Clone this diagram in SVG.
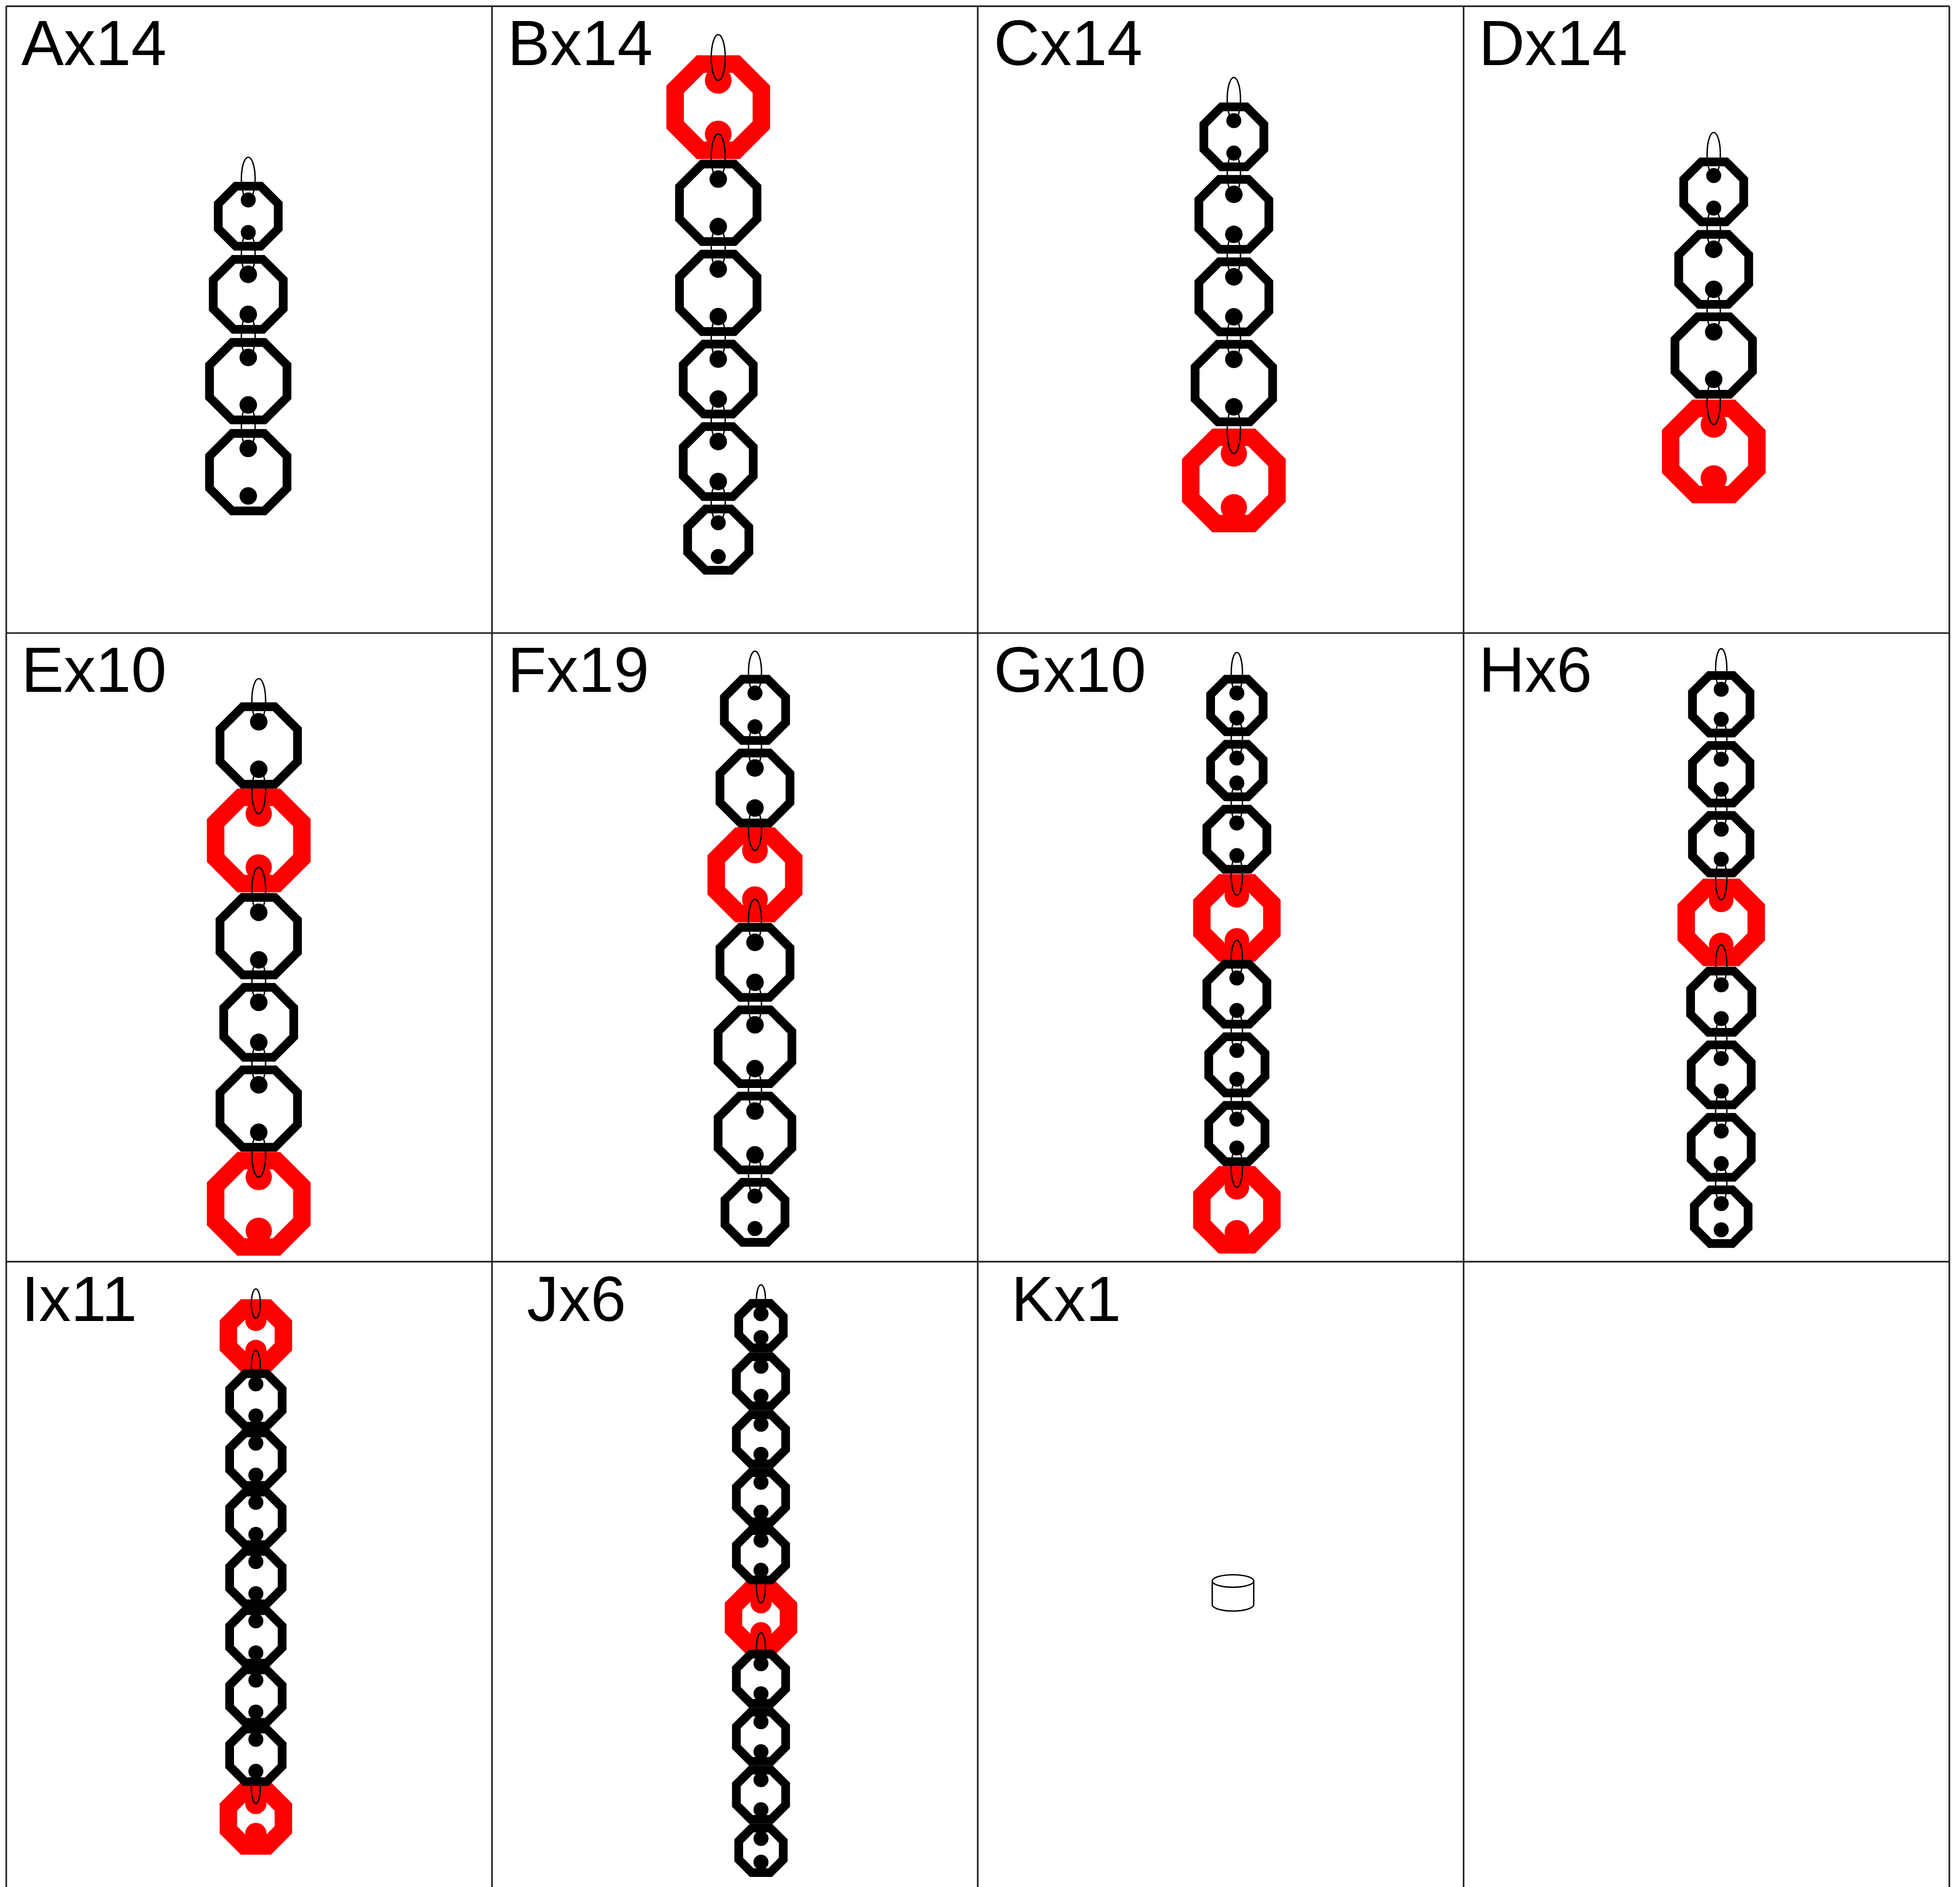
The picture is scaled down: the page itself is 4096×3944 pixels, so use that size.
<svg xmlns="http://www.w3.org/2000/svg" xmlns:xlink="http://www.w3.org/1999/xlink" width="4096" height="3944" viewBox="0 0 4096 3944">
<style>
.bk{fill:none;stroke:#000;stroke-width:7}
.rd{fill:none;stroke:#f00;stroke-width:14}
.bd{fill:#000}
.rdd{fill:#f00}
.cn{fill:none;stroke:#000;stroke-width:1.1}
.grid{stroke:#222;stroke-width:1.3;fill:none}
.lbl{font-family:"Liberation Sans",Arial,sans-serif;font-size:51px;fill:#000}
.cyl{fill:#fff;stroke:#000;stroke-width:1.1}
</style>
<defs>
<polygon id="o178" points="-7.37,-17.8 7.37,-17.8 17.8,-7.37 17.8,7.37 7.37,17.8 -7.37,17.8 -17.8,7.37 -17.8,-7.37"/>
<polygon id="o197" points="-8.16,-19.7 8.16,-19.7 19.7,-8.16 19.7,8.16 8.16,19.7 -8.16,19.7 -19.7,8.16 -19.7,-8.16"/>
<polygon id="o21" points="-8.7,-21 8.7,-21 21,-8.7 21,8.7 8.7,21 -8.7,21 -21,8.7 -21,-8.7"/>
<polygon id="o215" points="-8.91,-21.5 8.91,-21.5 21.5,-8.91 21.5,8.91 8.91,21.5 -8.91,21.5 -21.5,8.91 -21.5,-8.91"/>
<polygon id="o22" points="-9.11,-22 9.11,-22 22,-9.11 22,9.11 9.11,22 -9.11,22 -22,9.11 -22,-9.11"/>
<polygon id="o225" points="-9.32,-22.5 9.32,-22.5 22.5,-9.32 22.5,9.32 9.32,22.5 -9.32,22.5 -22.5,9.32 -22.5,-9.32"/>
<polygon id="o23" points="-9.53,-23 9.53,-23 23,-9.53 23,9.53 9.53,23 -9.53,23 -23,9.53 -23,-9.53"/>
<polygon id="o24" points="-9.94,-24 9.94,-24 24,-9.94 24,9.94 9.94,24 -9.94,24 -24,9.94 -24,-9.94"/>
<polygon id="o245" points="-10.15,-24.5 10.15,-24.5 24.5,-10.15 24.5,10.15 10.15,24.5 -10.15,24.5 -24.5,10.15 -24.5,-10.15"/>
<polygon id="o28" points="-11.6,-28 11.6,-28 28,-11.6 28,11.6 11.6,28 -11.6,28 -28,11.6 -28,-11.6"/>
<polygon id="o295" points="-12.22,-29.5 12.22,-29.5 29.5,-12.22 29.5,12.22 12.22,29.5 -12.22,29.5 -29.5,12.22 -29.5,-12.22"/>
<polygon id="o31" points="-12.84,-31 12.84,-31 31,-12.84 31,12.84 12.84,31 -12.84,31 -31,12.84 -31,-12.84"/>
<polygon id="o345" points="-14.29,-34.5 14.29,-34.5 34.5,-14.29 34.5,14.29 14.29,34.5 -14.29,34.5 -34.5,14.29 -34.5,-14.29"/>
</defs>
<rect x="0" y="0" width="4096" height="3944" fill="#fff"/>
<g transform="scale(2.6122)">
<g id="grid" class="grid">
<line x1="5" y1="5" x2="1559.5" y2="5"/>
<line x1="5" y1="506.5" x2="1559.5" y2="506.5"/>
<line x1="5" y1="1009.5" x2="1559.5" y2="1009.5"/>
<line x1="5" y1="5" x2="5" y2="1510"/>
<line x1="393.6" y1="5" x2="393.6" y2="1510"/>
<line x1="782.2" y1="5" x2="782.2" y2="1510"/>
<line x1="1170.9" y1="5" x2="1170.9" y2="1510"/>
<line x1="1559.5" y1="5" x2="1559.5" y2="1510"/>
</g>
<g id="labels" class="lbl">
<text x="17" y="52">Ax14</text>
<text x="406" y="52">Bx14</text>
<text x="795" y="52">Cx14</text>
<text x="1183" y="52">Dx14</text>
<text x="17" y="553.5">Ex10</text>
<text x="406" y="553.5">Fx19</text>
<text x="795" y="553.5">Gx10</text>
<text x="1183" y="553.5">Hx6</text>
<text x="17" y="1057">Ix11</text>
<text x="421.5" y="1057">Jx6</text>
<text x="809" y="1057">Kx1</text>
</g>
<g id="red-links">
<g id="B1" transform="translate(574.6,85.75)"><use href="#o345" class="rd"/><circle cy="-21.5" r="10.7" class="rdd"/><circle cy="21.5" r="10.7" class="rdd"/></g>
<g id="C5" transform="translate(987.1,384.4)"><use href="#o345" class="rd"/><circle cy="-21.5" r="10.5" class="rdd"/><circle cy="21.5" r="10.5" class="rdd"/></g>
<g id="D4" transform="translate(1371,361.25)"><use href="#o345" class="rd"/><circle cy="-21.5" r="10.5" class="rdd"/><circle cy="21.5" r="10.5" class="rdd"/></g>
<g id="E2" transform="translate(207,672.5)"><use href="#o345" class="rd"/><circle cy="-21.5" r="10.5" class="rdd"/><circle cy="21.5" r="10.5" class="rdd"/></g>
<g id="E6" transform="translate(207,963.25)"><use href="#o345" class="rd"/><circle cy="-21.5" r="10.5" class="rdd"/><circle cy="21.5" r="10.5" class="rdd"/></g>
<g id="F3" transform="translate(604,700)"><use href="#o31" class="rd"/><circle cy="-19.5" r="10.3" class="rdd"/><circle cy="19.5" r="10.3" class="rdd"/></g>
<g id="G4" transform="translate(989.5,734.4)"><use href="#o28" class="rd"/><circle cy="-18" r="9.8" class="rdd"/><circle cy="18" r="9.8" class="rdd"/></g>
<g id="G8" transform="translate(989.5,968)"><use href="#o28" class="rd"/><circle cy="-18" r="9.8" class="rdd"/><circle cy="18" r="9.8" class="rdd"/></g>
<g id="H4" transform="translate(1377,738)"><use href="#o28" class="rd"/><circle cy="-18" r="9.8" class="rdd"/><circle cy="18" r="9.8" class="rdd"/></g>
<g id="I1" transform="translate(204.7,1068.5)"><use href="#o22" class="rd"/><circle cy="-12" r="8.5" class="rdd"/><circle cy="12" r="8.5" class="rdd"/></g>
<g id="I9" transform="translate(204.7,1455)"><use href="#o22" class="rd"/><circle cy="-12" r="8.5" class="rdd"/><circle cy="12" r="8.5" class="rdd"/></g>
<g id="J6" transform="translate(608.8,1294.4)"><use href="#o22" class="rd"/><circle cy="-12" r="8.5" class="rdd"/><circle cy="12" r="8.5" class="rdd"/></g>
</g>
<g id="black-links">
<g id="A1" transform="translate(198.6,173)"><use href="#o24" class="bk"/><circle cy="-13" r="6" class="bd"/><circle cy="13" r="6" class="bd"/></g>
<g id="A2" transform="translate(198.6,235.5)"><use href="#o28" class="bk"/><circle cy="-16" r="7" class="bd"/><circle cy="16" r="7" class="bd"/></g>
<g id="A3" transform="translate(198.6,305)"><use href="#o31" class="bk"/><circle cy="-19" r="7" class="bd"/><circle cy="19" r="7" class="bd"/></g>
<g id="A4" transform="translate(198.6,377.8)"><use href="#o31" class="bk"/><circle cy="-19" r="7" class="bd"/><circle cy="19" r="7" class="bd"/></g>
<g id="B2" transform="translate(574.6,162.3)"><use href="#o31" class="bk"/><circle cy="-19" r="7" class="bd"/><circle cy="19" r="7" class="bd"/></g>
<g id="B3" transform="translate(574.6,234.3)"><use href="#o31" class="bk"/><circle cy="-19" r="7" class="bd"/><circle cy="19" r="7" class="bd"/></g>
<g id="B4" transform="translate(574.6,303.3)"><use href="#o28" class="bk"/><circle cy="-16" r="7" class="bd"/><circle cy="16" r="7" class="bd"/></g>
<g id="B5" transform="translate(574.6,369.3)"><use href="#o28" class="bk"/><circle cy="-16" r="7" class="bd"/><circle cy="16" r="7" class="bd"/></g>
<g id="B6" transform="translate(574.6,431.8)"><use href="#o245" class="bk"/><circle cy="-13.5" r="6" class="bd"/><circle cy="13.5" r="6" class="bd"/></g>
<g id="C1" transform="translate(987.1,109.5)"><use href="#o24" class="bk"/><circle cy="-13" r="6" class="bd"/><circle cy="13" r="6" class="bd"/></g>
<g id="C2" transform="translate(987.1,171.5)"><use href="#o28" class="bk"/><circle cy="-16" r="7" class="bd"/><circle cy="16" r="7" class="bd"/></g>
<g id="C3" transform="translate(987.1,237.5)"><use href="#o28" class="bk"/><circle cy="-16" r="7" class="bd"/><circle cy="16" r="7" class="bd"/></g>
<g id="C4" transform="translate(987.1,306.5)"><use href="#o31" class="bk"/><circle cy="-19" r="7" class="bd"/><circle cy="19" r="7" class="bd"/></g>
<g id="D1" transform="translate(1371,153.5)"><use href="#o24" class="bk"/><circle cy="-13" r="6" class="bd"/><circle cy="13" r="6" class="bd"/></g>
<g id="D2" transform="translate(1371,215.5)"><use href="#o28" class="bk"/><circle cy="-16" r="7" class="bd"/><circle cy="16" r="7" class="bd"/></g>
<g id="D3" transform="translate(1371,284.5)"><use href="#o31" class="bk"/><circle cy="-19" r="7" class="bd"/><circle cy="19" r="7" class="bd"/></g>
<g id="E1" transform="translate(207,596.5)"><use href="#o31" class="bk"/><circle cy="-19" r="7" class="bd"/><circle cy="19" r="7" class="bd"/></g>
<g id="E3" transform="translate(207,749)"><use href="#o31" class="bk"/><circle cy="-19" r="7" class="bd"/><circle cy="19" r="7" class="bd"/></g>
<g id="E4" transform="translate(207,818)"><use href="#o28" class="bk"/><circle cy="-16" r="7" class="bd"/><circle cy="16" r="7" class="bd"/></g>
<g id="E5" transform="translate(207,887)"><use href="#o31" class="bk"/><circle cy="-19" r="7" class="bd"/><circle cy="19" r="7" class="bd"/></g>
<g id="F1" transform="translate(604,568)"><use href="#o245" class="bk"/><circle cy="-13.5" r="6" class="bd"/><circle cy="13.5" r="6" class="bd"/></g>
<g id="F2" transform="translate(604,630.5)"><use href="#o28" class="bk"/><circle cy="-16" r="7" class="bd"/><circle cy="16" r="7" class="bd"/></g>
<g id="F4" transform="translate(604,770)"><use href="#o28" class="bk"/><circle cy="-16" r="7" class="bd"/><circle cy="16" r="7" class="bd"/></g>
<g id="F5" transform="translate(604,837.5)"><use href="#o295" class="bk"/><circle cy="-17.5" r="7" class="bd"/><circle cy="17.5" r="7" class="bd"/></g>
<g id="F6" transform="translate(604,906.5)"><use href="#o295" class="bk"/><circle cy="-17.5" r="7" class="bd"/><circle cy="17.5" r="7" class="bd"/></g>
<g id="F7" transform="translate(604,970)"><use href="#o24" class="bk"/><circle cy="-13" r="6" class="bd"/><circle cy="13" r="6" class="bd"/></g>
<g id="G1" transform="translate(989.5,564.5)"><use href="#o21" class="bk"/><circle cy="-10" r="6" class="bd"/><circle cy="10" r="6" class="bd"/></g>
<g id="G2" transform="translate(989.5,616.5)"><use href="#o21" class="bk"/><circle cy="-10" r="6" class="bd"/><circle cy="10" r="6" class="bd"/></g>
<g id="G3" transform="translate(989.5,671.5)"><use href="#o24" class="bk"/><circle cy="-13" r="6" class="bd"/><circle cy="13" r="6" class="bd"/></g>
<g id="G5" transform="translate(989.5,795.5)"><use href="#o24" class="bk"/><circle cy="-13" r="6" class="bd"/><circle cy="13" r="6" class="bd"/></g>
<g id="G6" transform="translate(989.5,852)"><use href="#o225" class="bk"/><circle cy="-11.5" r="6" class="bd"/><circle cy="11.5" r="6" class="bd"/></g>
<g id="G7" transform="translate(989.5,907)"><use href="#o225" class="bk"/><circle cy="-11.5" r="6" class="bd"/><circle cy="11.5" r="6" class="bd"/></g>
<g id="H1" transform="translate(1377,563.5)"><use href="#o23" class="bk"/><circle cy="-12" r="6" class="bd"/><circle cy="12" r="6" class="bd"/></g>
<g id="H2" transform="translate(1377,619.5)"><use href="#o23" class="bk"/><circle cy="-12" r="6" class="bd"/><circle cy="12" r="6" class="bd"/></g>
<g id="H3" transform="translate(1377,675.5)"><use href="#o23" class="bk"/><circle cy="-12" r="6" class="bd"/><circle cy="12" r="6" class="bd"/></g>
<g id="H5" transform="translate(1377,801.5)"><use href="#o245" class="bk"/><circle cy="-13.5" r="6" class="bd"/><circle cy="13.5" r="6" class="bd"/></g>
<g id="H6" transform="translate(1377,860)"><use href="#o24" class="bk"/><circle cy="-13" r="6" class="bd"/><circle cy="13" r="6" class="bd"/></g>
<g id="H7" transform="translate(1377,918)"><use href="#o24" class="bk"/><circle cy="-13" r="6" class="bd"/><circle cy="13" r="6" class="bd"/></g>
<g id="H8" transform="translate(1377,973.5)"><use href="#o215" class="bk"/><circle cy="-10.5" r="6" class="bd"/><circle cy="10.5" r="6" class="bd"/></g>
<g id="I2" transform="translate(204.7,1120.1)"><use href="#o21" class="bk"/><circle cy="-12.8" r="6" class="bd"/><circle cy="12.8" r="6" class="bd"/></g>
<g id="I3" transform="translate(204.7,1167.5)"><use href="#o21" class="bk"/><circle cy="-12.8" r="6" class="bd"/><circle cy="12.8" r="6" class="bd"/></g>
<g id="I4" transform="translate(204.7,1214.9)"><use href="#o21" class="bk"/><circle cy="-12.8" r="6" class="bd"/><circle cy="12.8" r="6" class="bd"/></g>
<g id="I5" transform="translate(204.7,1262.3)"><use href="#o21" class="bk"/><circle cy="-12.8" r="6" class="bd"/><circle cy="12.8" r="6" class="bd"/></g>
<g id="I6" transform="translate(204.7,1309.7)"><use href="#o21" class="bk"/><circle cy="-12.8" r="6" class="bd"/><circle cy="12.8" r="6" class="bd"/></g>
<g id="I7" transform="translate(204.7,1357.1)"><use href="#o21" class="bk"/><circle cy="-12.8" r="6" class="bd"/><circle cy="12.8" r="6" class="bd"/></g>
<g id="I8" transform="translate(204.7,1404.5)"><use href="#o21" class="bk"/><circle cy="-12.8" r="6" class="bd"/><circle cy="12.8" r="6" class="bd"/></g>
<g id="J1" transform="translate(608.8,1060.7)"><use href="#o178" class="bk"/><circle cy="-9.5" r="6" class="bd"/><circle cy="9.5" r="6" class="bd"/></g>
<g id="J2" transform="translate(608.8,1105.2)"><use href="#o197" class="bk"/><circle cy="-12" r="6" class="bd"/><circle cy="12" r="6" class="bd"/></g>
<g id="J3" transform="translate(608.8,1151.6)"><use href="#o197" class="bk"/><circle cy="-12" r="6" class="bd"/><circle cy="12" r="6" class="bd"/></g>
<g id="J4" transform="translate(608.8,1198)"><use href="#o197" class="bk"/><circle cy="-12" r="6" class="bd"/><circle cy="12" r="6" class="bd"/></g>
<g id="J5" transform="translate(608.8,1244.4)"><use href="#o197" class="bk"/><circle cy="-12" r="6" class="bd"/><circle cy="12" r="6" class="bd"/></g>
<g id="J7" transform="translate(608.8,1343.2)"><use href="#o197" class="bk"/><circle cy="-12" r="6" class="bd"/><circle cy="12" r="6" class="bd"/></g>
<g id="J8" transform="translate(608.8,1389.6)"><use href="#o197" class="bk"/><circle cy="-12" r="6" class="bd"/><circle cy="12" r="6" class="bd"/></g>
<g id="J9" transform="translate(608.8,1436)"><use href="#o197" class="bk"/><circle cy="-12" r="6" class="bd"/><circle cy="12" r="6" class="bd"/></g>
<g id="J10" transform="translate(608.8,1480.5)"><use href="#o178" class="bk"/><circle cy="-9.5" r="6" class="bd"/><circle cy="9.5" r="6" class="bd"/></g>
</g>
<g id="connectors" class="cn">
<ellipse cx="198.6" cy="142.9" rx="5.5" ry="17.1"/>
<ellipse cx="198.6" cy="202.75" rx="5.5" ry="16.75"/>
<ellipse cx="198.6" cy="268.75" rx="5.5" ry="17.25"/>
<ellipse cx="198.6" cy="341.4" rx="5.5" ry="17.4"/>
<ellipse cx="574.6" cy="46" rx="5.6" ry="18.3"/>
<ellipse cx="574.6" cy="125.3" rx="5.6" ry="18"/>
<ellipse cx="574.6" cy="198.3" rx="5.6" ry="17"/>
<ellipse cx="574.6" cy="270.3" rx="5.6" ry="17"/>
<ellipse cx="574.6" cy="336.3" rx="5.6" ry="17"/>
<ellipse cx="574.6" cy="401.8" rx="5.6" ry="16.5"/>
<ellipse cx="987.1" cy="79.25" rx="5.3" ry="17.25"/>
<ellipse cx="987.1" cy="139" rx="5.3" ry="16.5"/>
<ellipse cx="987.1" cy="204.5" rx="5.3" ry="17"/>
<ellipse cx="987.1" cy="270.5" rx="5.3" ry="17"/>
<ellipse cx="987.1" cy="344.2" rx="5.3" ry="18.7"/>
<ellipse cx="1371" cy="123.25" rx="5.3" ry="17.25"/>
<ellipse cx="1371" cy="183" rx="5.3" ry="16.5"/>
<ellipse cx="1371" cy="248.5" rx="5.3" ry="17"/>
<ellipse cx="1371" cy="321.6" rx="5.3" ry="18.1"/>
<ellipse cx="207" cy="560.25" rx="5.5" ry="17.25"/>
<ellipse cx="207" cy="633.25" rx="5.5" ry="17.75"/>
<ellipse cx="207" cy="712" rx="5.5" ry="18"/>
<ellipse cx="207" cy="785" rx="5.5" ry="17"/>
<ellipse cx="207" cy="851" rx="5.5" ry="17"/>
<ellipse cx="207" cy="923.9" rx="5.5" ry="17.9"/>
<ellipse cx="604" cy="537.75" rx="5.2" ry="16.75"/>
<ellipse cx="604" cy="598" rx="5.2" ry="16.5"/>
<ellipse cx="604" cy="663.5" rx="5.2" ry="17"/>
<ellipse cx="604" cy="736.75" rx="5.2" ry="17.25"/>
<ellipse cx="604" cy="803" rx="5.2" ry="17"/>
<ellipse cx="604" cy="872" rx="5.2" ry="17"/>
<ellipse cx="604" cy="940.5" rx="5.2" ry="16.5"/>
<ellipse cx="989.5" cy="538.25" rx="4.5" ry="16.25"/>
<ellipse cx="989.5" cy="590.5" rx="4.5" ry="16"/>
<ellipse cx="989.5" cy="642.5" rx="4.5" ry="16"/>
<ellipse cx="989.5" cy="700.45" rx="4.5" ry="15.95"/>
<ellipse cx="989.5" cy="767.45" rx="4.5" ry="15.05"/>
<ellipse cx="989.5" cy="824.5" rx="4.5" ry="16"/>
<ellipse cx="989.5" cy="879.5" rx="4.5" ry="16"/>
<ellipse cx="989.5" cy="934.25" rx="4.5" ry="15.75"/>
<ellipse cx="1377" cy="535.25" rx="4.5" ry="16.25"/>
<ellipse cx="1377" cy="591.5" rx="4.5" ry="16"/>
<ellipse cx="1377" cy="647.5" rx="4.5" ry="16"/>
<ellipse cx="1377" cy="703.75" rx="4.5" ry="16.25"/>
<ellipse cx="1377" cy="772" rx="4.5" ry="16"/>
<ellipse cx="1377" cy="831" rx="4.5" ry="16"/>
<ellipse cx="1377" cy="889" rx="4.5" ry="16"/>
<ellipse cx="1377" cy="947" rx="4.5" ry="16"/>
<ellipse cx="204.7" cy="1043" rx="3.6" ry="11.75"/>
<ellipse cx="204.7" cy="1093.9" rx="3.6" ry="13.4"/>
<ellipse cx="204.7" cy="1143.8" rx="3.6" ry="10.9"/>
<ellipse cx="204.7" cy="1191.2" rx="3.6" ry="10.9"/>
<ellipse cx="204.7" cy="1238.6" rx="3.6" ry="10.9"/>
<ellipse cx="204.7" cy="1286" rx="3.6" ry="10.9"/>
<ellipse cx="204.7" cy="1333.4" rx="3.6" ry="10.9"/>
<ellipse cx="204.7" cy="1380.8" rx="3.6" ry="10.9"/>
<ellipse cx="204.7" cy="1430.15" rx="3.6" ry="12.85"/>
<ellipse cx="608.8" cy="1039.6" rx="3.6" ry="11.6"/>
<ellipse cx="608.8" cy="1081.7" rx="3.6" ry="11.5"/>
<ellipse cx="608.8" cy="1128.4" rx="3.6" ry="11.2"/>
<ellipse cx="608.8" cy="1174.8" rx="3.6" ry="11.2"/>
<ellipse cx="608.8" cy="1221.2" rx="3.6" ry="11.2"/>
<ellipse cx="608.8" cy="1269.4" rx="3.6" ry="13"/>
<ellipse cx="608.8" cy="1318.8" rx="3.6" ry="12.4"/>
<ellipse cx="608.8" cy="1366.4" rx="3.6" ry="11.2"/>
<ellipse cx="608.8" cy="1412.8" rx="3.6" ry="11.2"/>
<ellipse cx="608.8" cy="1459.5" rx="3.6" ry="11.5"/>
</g>
<g id="K1">
<path class="cyl" d="M969.8,1265 V1284 A16.6,5 0 0 0 1003,1284 V1265 Z"/>
<ellipse class="cyl" cx="986.4" cy="1265" rx="16.6" ry="5"/>
</g>
</g>
</svg>
